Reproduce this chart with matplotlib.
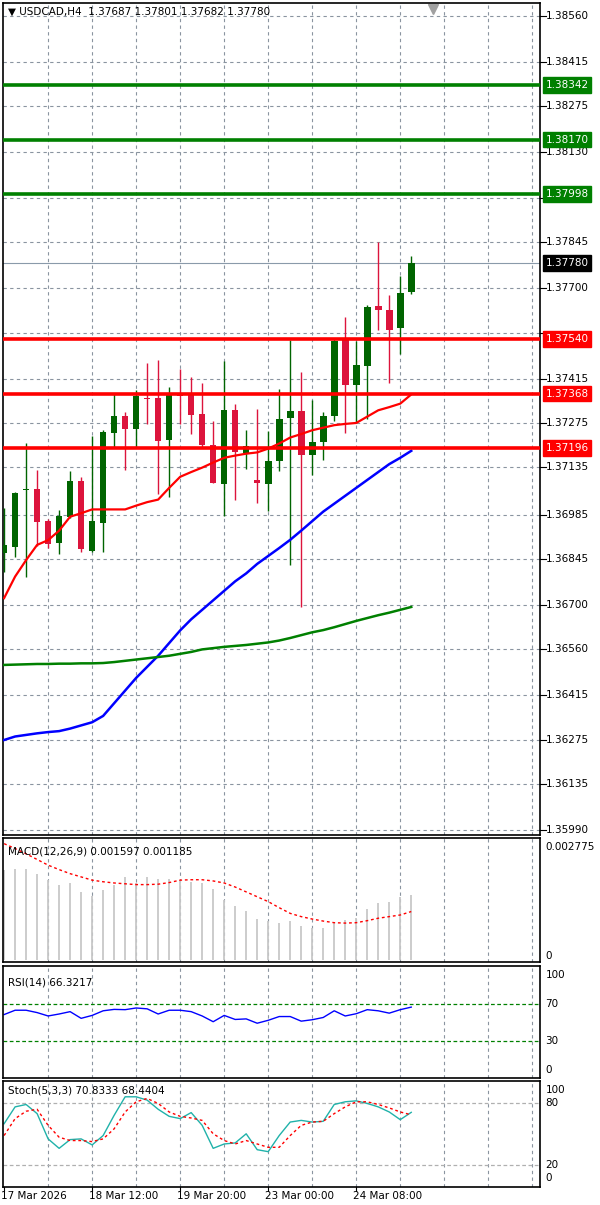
import numpy as np
import matplotlib
matplotlib.use("Agg")
import matplotlib.pyplot as plt

# candle data (H4)
opens = [1.36865, 1.36882, 1.37063, 1.37066, 1.36966, 1.36895, 1.36977, 1.37091, 1.36872, 1.36960,
         1.37244, 1.37297, 1.37257, 1.37354, 1.37354, 1.37222, 1.37367, 1.37367, 1.37302, 1.37206,
         1.37081, 1.37315, 1.37180, 1.37094, 1.37081, 1.37154, 1.37292, 1.37313, 1.37175, 1.37214,
         1.37296, 1.37540, 1.37396, 1.37454, 1.37645, 1.37633, 1.37575, 1.37687]
highs = [1.37005, 1.37058, 1.37213, 1.37126, 1.36972, 1.37000, 1.37123, 1.37105, 1.37234, 1.37252,
         1.37367, 1.37310, 1.37378, 1.37465, 1.37474, 1.37388, 1.37444, 1.37420, 1.37401, 1.37281,
         1.37470, 1.37336, 1.37252, 1.37320, 1.37250, 1.37383, 1.37538, 1.37436, 1.37346, 1.37310,
         1.37540, 1.37611, 1.37535, 1.37649, 1.37845, 1.37680, 1.37738, 1.37801]
lows = [1.36805, 1.36851, 1.36790, 1.36886, 1.36879, 1.36860, 1.36975, 1.36869, 1.36869, 1.36869,
        1.37197, 1.37128, 1.37199, 1.37271, 1.37050, 1.37042, 1.37271, 1.37239, 1.37197, 1.37084,
        1.36982, 1.37033, 1.37129, 1.37023, 1.36998, 1.37124, 1.36827, 1.36693, 1.37110, 1.37157,
        1.37281, 1.37244, 1.37278, 1.37289, 1.37570, 1.37402, 1.37493, 1.37682]
closes = [1.36890, 1.37055, 1.37067, 1.36963, 1.36892, 1.36982, 1.37091, 1.36876, 1.36966, 1.37247,
          1.37297, 1.37257, 1.37360, 1.37350, 1.37218, 1.37370, 1.37360, 1.37301, 1.37204, 1.37084,
          1.37315, 1.37184, 1.37201, 1.37084, 1.37155, 1.37289, 1.37313, 1.37175, 1.37215, 1.37297,
          1.37535, 1.37396, 1.37457, 1.37642, 1.37632, 1.37570, 1.37685, 1.37780]

ma_red = [1.36722, 1.36790, 1.36842, 1.36890, 1.36905, 1.36935, 1.36979, 1.36990, 1.37002, 1.37002,
          1.37002, 1.37002, 1.37014, 1.37025, 1.37033, 1.37070, 1.37105, 1.37120, 1.37134, 1.37150,
          1.37165, 1.37172, 1.37178, 1.37182, 1.37194, 1.37210, 1.37229, 1.37240, 1.37252, 1.37260,
          1.37268, 1.37272, 1.37275, 1.37295, 1.37315, 1.37325, 1.37336, 1.37365]
ma_blue = [1.36274, 1.36285, 1.36290, 1.36295, 1.36299, 1.36302, 1.36310, 1.36320, 1.36330, 1.36350,
           1.36390, 1.36430, 1.36470, 1.36505, 1.36540, 1.36580, 1.36620, 1.36655, 1.36685, 1.36715,
           1.36745, 1.36775, 1.36800, 1.36830, 1.36855, 1.36880, 1.36906, 1.36935, 1.36965, 1.36995,
           1.37020, 1.37045, 1.37070, 1.37095, 1.37120, 1.37145, 1.37165, 1.37187]
ma_green = [1.36511, 1.36512, 1.36513, 1.36514, 1.36514, 1.36515, 1.36515, 1.36516, 1.36516, 1.36517,
            1.36520, 1.36524, 1.36528, 1.36532, 1.36536, 1.36540, 1.36546, 1.36552, 1.36560, 1.36564,
            1.36568, 1.36571, 1.36574, 1.36578, 1.36582, 1.36588, 1.36596, 1.36605, 1.36614, 1.36621,
            1.36630, 1.36640, 1.36650, 1.36659, 1.36668, 1.36676, 1.36685, 1.36694]

res_levels = [1.38342, 1.38170, 1.37998]
sup_levels = [1.37540, 1.37368, 1.37196]
last_price = 1.37780
price_ticks = [1.38560, 1.38415, 1.38275, 1.38130, 1.37985, 1.37845, 1.37700, 1.37560, 1.37415,
               1.37275, 1.37135, 1.36985, 1.36845, 1.36700, 1.36560, 1.36415, 1.36275, 1.36135, 1.35990]

macd_hist = [0.00222, 0.00224, 0.00224, 0.00211, 0.00196, 0.00184, 0.00188, 0.00167, 0.00157, 0.00171,
             0.00184, 0.00204, 0.00189, 0.00204, 0.00198, 0.00198, 0.00196, 0.00192, 0.00188, 0.00175,
             0.00147, 0.00131, 0.00121, 0.00100, 0.00096, 0.00091, 0.00094, 0.00083, 0.00078, 0.00078,
             0.00090, 0.00098, 0.00102, 0.00126, 0.00140, 0.00143, 0.00155, 0.001597]
macd_signal = [0.00286, 0.00274, 0.00261, 0.00247, 0.00233, 0.00222, 0.00212, 0.00204, 0.00196, 0.00192,
               0.00189, 0.00187, 0.00185, 0.00185, 0.00186, 0.00190, 0.00196, 0.00197, 0.00197, 0.00194,
               0.00189, 0.00179, 0.00167, 0.00155, 0.00143, 0.00128, 0.00114, 0.00106, 0.00100, 0.00095,
               0.00091, 0.00090, 0.00091, 0.00096, 0.00102, 0.00106, 0.00110, 0.001185]
rsi = [58.4, 63.0, 63.0, 60.5, 56.9, 59.0, 61.5, 54.4, 57.5, 62.4, 63.9, 63.6, 65.4, 64.5, 59.0, 63.0,
       63.0, 61.5, 56.9, 50.8, 57.5, 53.2, 53.8, 49.2, 52.3, 56.3, 56.3, 51.4, 52.9, 55.3, 62.4, 56.9,
       59.3, 63.6, 62.4, 59.9, 63.6, 66.32]
stoch_k = [59.9, 76.1, 78.4, 69.6, 45.3, 36.2, 44.6, 45.3, 39.5, 48.5, 68.0, 85.8, 85.8, 82.6, 73.8,
           67.0, 64.8, 70.6, 58.3, 36.2, 40.4, 41.4, 50.2, 34.9, 33.0, 48.5, 61.5, 63.1, 61.5, 62.2,
           78.4, 81.0, 81.9, 79.4, 76.1, 71.2, 63.8, 70.83]
stoch_d = [48.5, 64.8, 71.9, 73.8, 58.3, 46.9, 43.7, 43.7, 42.7, 45.3, 55.0, 71.2, 81.0, 84.2, 79.4,
           71.2, 67.0, 65.4, 63.1, 50.2, 43.7, 40.4, 43.7, 40.4, 37.2, 37.2, 48.5, 58.3, 61.5, 62.2,
           69.6, 76.1, 81.0, 81.0, 78.4, 75.1, 71.2, 68.44]
date_labels = ["17 Mar 2026", "18 Mar 12:00", "19 Mar 20:00", "23 Mar 00:00", "24 Mar 08:00"]

W, H = 600, 1205
fig = plt.figure(figsize=(W / 100, H / 100), dpi=100)
plt.rcParams['font.family'] = ['DejaVu Sans']
FS = 7.5
xlim = (-0.1, 48.7)
x = np.arange(len(opens))
grid_x = np.arange(4, 49, 4)
boxed = res_levels + sup_levels + [last_price]


def panel(top, bottom):
    ax = fig.add_axes([3 / W, 1 - bottom / H, 537 / W, (bottom - top) / H])
    ax.set_xlim(*xlim)
    ax.set_xticks([])
    ax.set_yticks([])
    for s in ax.spines.values():
        s.set_color("black")
        s.set_linewidth(1.2)
    for gx in grid_x:
        ax.axvline(gx, color="#8a94a0", ls=(0, (3, 3)), lw=0.8, zorder=0)
    return ax


def right_label(ax, y, txt, **kw):
    ax.text(1.01, y, txt, transform=ax.get_yaxis_transform(), va="center", ha="left",
            fontsize=FS, clip_on=False, **kw)


# ---- main price panel
ax = panel(3, 835)
ax.set_ylim(1.35974, 1.38601)
for p in price_ticks:
    ax.axhline(p, color="#8a94a0", ls=(0, (3, 3)), lw=0.8, zorder=0)
    ax.plot([1.0, 1.012], [p, p], transform=ax.get_yaxis_transform(), color="black", lw=0.8, clip_on=False)
    # labels hidden behind the level boxes
    if min(abs(p - b) for b in boxed) > 0.0003:
        right_label(ax, p, f"{p:.5f}")
ax.axhline(last_price, color="#8a9aaa", lw=0.8, zorder=1)

for i in x:
    up = closes[i] >= opens[i]
    col = "#006400" if up else "#dc143c"
    ax.vlines(i, lows[i], highs[i], color=col, lw=1, zorder=3)
    lo, hi = sorted([opens[i], closes[i]])
    ax.bar(i, max(hi - lo, 0.00003), bottom=lo, width=0.6, color=col, zorder=4)

ax.plot(x, ma_red, color="red", lw=1.6, zorder=5)
ax.plot(x, ma_blue, color="blue", lw=1.8, zorder=5)
ax.plot(x, ma_green, color="green", lw=1.8, zorder=5)

for p in res_levels:
    ax.axhline(p, color="green", lw=2.6, zorder=6)
    right_label(ax, p, f"{p:.5f}", color="white", zorder=10,
                bbox=dict(boxstyle="square,pad=0.25", fc="green", ec="green"))
for p in sup_levels:
    ax.axhline(p, color="red", lw=2.6, zorder=6)
    right_label(ax, p, f"{p:.5f}", color="white", zorder=10,
                bbox=dict(boxstyle="square,pad=0.25", fc="red", ec="red"))
right_label(ax, last_price, f"{last_price:.5f}", color="white", zorder=10,
            bbox=dict(boxstyle="square,pad=0.25", fc="black", ec="black"))

ax.text(0.01, 0.995, "\u25bc USDCAD,H4  1.37687 1.37801 1.37682 1.37780", transform=ax.transAxes,
        va="top", ha="left", fontsize=FS, color="black")
ax.plot([0.8], [0.993], marker="v", color="#a0a0a0", ms=7, transform=ax.transAxes)

# ---- MACD
axm = panel(838, 962)
axm.set_ylim(-0.00006, 0.0030)
axm.vlines(x, 0, macd_hist, color="#c8c8c8", lw=1.3, zorder=2)
axm.plot(x, macd_signal, color="red", ls=(0, (2, 2)), lw=1, zorder=3)
axm.text(0.01, 0.93, "MACD(12,26,9) 0.001597 0.001185", transform=axm.transAxes, va="top", fontsize=FS)
right_label(axm, 0.002775, "0.002775")
right_label(axm, 0.0001, "0")

# ---- RSI
axr = panel(966, 1078)
axr.set_ylim(-9, 110)
for lv in (70, 30):
    axr.axhline(lv, color="green", ls=(0, (3, 2)), lw=0.9)
axr.plot(x, rsi, color="blue", lw=1)
axr.text(0.01, 0.9, "RSI(14) 66.3217", transform=axr.transAxes, va="top", fontsize=FS)
for lv in (100, 70, 30, 0):
    right_label(axr, lv, str(lv))

# ---- Stochastic
axs = panel(1081, 1187)
axs.set_ylim(-1, 101)
for lv in (80, 20):
    axs.axhline(lv, color="#b0b0b0", ls=(0, (3, 2)), lw=0.9)
axs.plot(x, stoch_k, color="lightseagreen", lw=1)
axs.plot(x, stoch_d, color="red", ls=(0, (2, 2)), lw=1)
axs.text(0.01, 0.96, "Stoch(5,3,3) 70.8333 68.4404", transform=axs.transAxes, va="top", fontsize=FS)
for lv, yv in ((100, 92), (80, 80), (20, 20), (0, 8)):
    right_label(axs, yv, str(lv))

for k, lab in enumerate(date_labels):
    axs.text(k * 8 - 0.3, -0.04, lab, transform=axs.get_xaxis_transform(), va="top", ha="left",
             fontsize=FS, clip_on=False)
    axs.plot([k * 8, k * 8], [-0.04, 0], transform=axs.get_xaxis_transform(), color="black",
             lw=0.8, clip_on=False)

fig.savefig("out.png", dpi=100)
